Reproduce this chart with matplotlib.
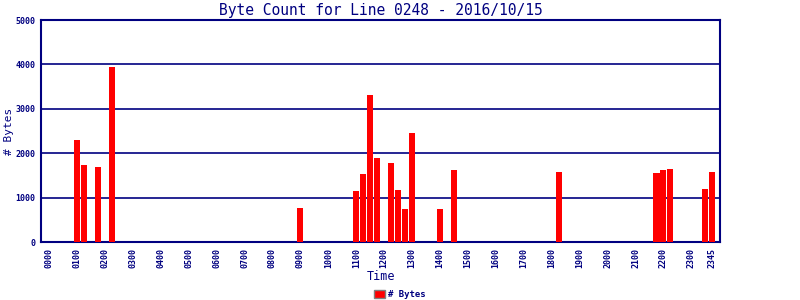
import matplotlib
matplotlib.use("Agg")
import matplotlib.pyplot as plt
from matplotlib.patches import Patch

# data (15 minute slots)
times = ["0100", "0115", "0145", "0215", "0900",
         "1100", "1115", "1130", "1145", "1215", "1230", "1245", "1300",
         "1400", "1430", "1815", "2145", "2200", "2215", "2330", "2345"]
byte_counts = [2300, 1740, 1690, 3950, 770,
               1150, 1530, 3310, 1890, 1780, 1170, 745, 2455,
               745, 1620, 1580, 1555, 1620, 1645, 1195, 1580]
tick_labels = ["%02d00" % h for h in range(24)] + ["2345"]
title = "Byte Count for Line 0248 - 2016/10/15"

navy = "#000080"
mono = "DejaVu Sans Mono"


def slot(t):
    return int(t[:2]) * 4 + int(t[2:]) // 15


fig = plt.figure(figsize=(8, 3), dpi=100)
ax = fig.add_axes([0.05125, 0.193, 0.8488, 0.74])

ax.bar([slot(t) for t in times], byte_counts, width=0.86, color="#ff0000", zorder=3)

ax.set_xlim(-1.15, 96.1)
ax.set_ylim(0, 5000)
ax.set_yticks(range(0, 5001, 1000))
ax.set_xticks([slot(t) for t in tick_labels])
ax.set_xticklabels(tick_labels, rotation=90)
ax.tick_params(length=0, labelsize=6, labelcolor=navy, pad=4)
for lab in ax.get_xticklabels() + ax.get_yticklabels():
    lab.set_family(mono)
    lab.set_fontweight("bold")

ax.yaxis.grid(True, color=navy, lw=1.2, zorder=1)
for s in ax.spines.values():
    s.set_color(navy)
    s.set_linewidth(1.5)

ax.set_title(title, color=navy, family=mono, fontsize=10.5, pad=4)
ax.set_xlabel("Time", color=navy, family=mono, fontsize=8.5, labelpad=2)
ax.set_ylabel("# Bytes", color=navy, family=mono, fontsize=8)
ax.yaxis.set_label_coords(-0.040, 0.5)

fig.legend(handles=[Patch(facecolor="#ff0000", edgecolor="#808080", lw=1, label="# Bytes")],
           loc="center", bbox_to_anchor=(0.5, 0.018), frameon=False,
           prop={"family": mono, "size": 6.5, "weight": "bold"},
           handlelength=1.2, handleheight=0.9, handletextpad=0.3, labelcolor=navy)

fig.savefig("out.png", dpi=100)
